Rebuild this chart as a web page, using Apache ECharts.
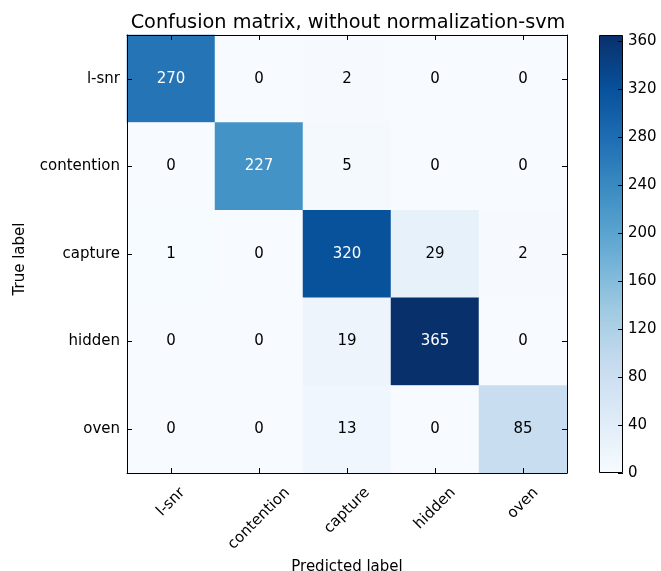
<!DOCTYPE html>
<html>
<head>
<meta charset="utf-8">
<script src="https://cdn.jsdelivr.net/npm/echarts@6/dist/echarts.min.js"></script>
<style>
  html, body { margin: 0; padding: 0; background: #fff; }
  #chart { width: 661px; height: 571px; }
</style>
</head>
<body>
<div id="chart"></div>
<script>
// Class names, shared by both axes (true label rows, predicted label columns)
const classNames = ['l-snr', 'contention', 'capture', 'hidden', 'oven'];

// Confusion counts: one row per true label, one column per predicted label
const rowLsnr       = [270, 0, 2, 0, 0];
const rowContention = [0, 227, 5, 0, 0];
const rowCapture    = [1, 0, 320, 29, 2];
const rowHidden     = [0, 0, 19, 365, 0];
const rowOven       = [0, 0, 13, 0, 85];
const countRows = [rowLsnr, rowContention, rowCapture, rowHidden, rowOven];

// Colour bar tick step
const colorbarStep = 40;

// Blues colour ramp
const blues = ['#f7fbff', '#deebf7', '#c6dbef', '#9ecae1', '#6baed6',
               '#4292c6', '#2171b5', '#08519c', '#08306b'];

const FONT = '"DejaVu Sans", "Liberation Sans", sans-serif';
const TICK_SIZE = 15;

const maxCount = Math.max(...countRows.flat());
const threshold = maxCount / 2;

// Heatmap cells: [column, row, value], with white text on dark cells
const cells = [];
countRows.forEach((row, r) => {
  row.forEach((v, c) => {
    cells.push({
      value: [c, r, v],
      label: { color: v > threshold ? '#ffffff' : '#000000' }
    });
  });
});

// Rotated x labels: centre each rotated label box under its tick, with all
// boxes starting at the same distance below the axis.
const measureCtx = document.createElement('canvas').getContext('2d');
measureCtx.font = TICK_SIZE + 'px ' + FONT;
const rich = {};
classNames.forEach((name, i) => {
  const w = measureCtx.measureText(name).width;
  const p = (w + TICK_SIZE) * 0.5;
  rich['c' + i] = {
    fontFamily: FONT, fontSize: TICK_SIZE, color: '#000',
    padding: [p, p, 0, 0]
  };
});

const gradientStops = blues.map((c, i) => ({ offset: 1 - i / (blues.length - 1), color: c }));

const axisLineStyle = { show: true, lineStyle: { color: '#000', width: 1 } };
const tickStyle = { show: true, inside: true, length: 5, alignWithLabel: true, lineStyle: { color: '#000', width: 1 } };

const chart = echarts.init(document.getElementById('chart'), null, { renderer: 'canvas' });

chart.setOption({
  animation: false,
  backgroundColor: '#fff',
  textStyle: { fontFamily: FONT },
  title: {
    text: 'Confusion matrix, without normalization-svm',
    left: 343,
    top: 8,
    textAlign: 'center',
    textStyle: { fontFamily: FONT, fontSize: 19.3, fontWeight: 'normal', color: '#000' }
  },
  grid: [
    { left: 127, top: 35, width: 440, height: 438, outerBoundsMode: 'none', containLabel: false },
    { left: 599, top: 35, width: 24, height: 438, outerBoundsMode: 'none', containLabel: false }
  ],
  xAxis: [
    {
      type: 'category', gridIndex: 0, data: classNames, position: 'bottom', z: 10,
      axisLine: axisLineStyle, axisTick: tickStyle,
      splitLine: { show: false },
      axisLabel: {
        interval: 0, rotate: 45, align: 'center', verticalAlign: 'middle', margin: 12,
        formatter: (v, i) => '{c' + i + '|' + v + '}',
        rich: rich
      },
      name: 'Predicted label', nameLocation: 'middle', nameGap: 82,
      nameTextStyle: { fontFamily: FONT, fontSize: TICK_SIZE, color: '#000' }
    },
    {
      type: 'category', gridIndex: 0, data: classNames, position: 'top', z: 10,
      axisLine: axisLineStyle, axisTick: tickStyle, axisLabel: { show: false }
    },
    {
      type: 'category', gridIndex: 1, data: [''], show: false
    }
  ],
  yAxis: [
    {
      type: 'category', gridIndex: 0, data: classNames, inverse: true, position: 'left', z: 10,
      axisLine: axisLineStyle, axisTick: tickStyle,
      axisLabel: { fontFamily: FONT, fontSize: TICK_SIZE, color: '#000', margin: 7 },
      name: 'True label', nameLocation: 'middle', nameGap: 99, nameRotate: 90,
      nameTextStyle: { fontFamily: FONT, fontSize: TICK_SIZE, color: '#000', padding: [0, 10, 0, 0] }
    },
    {
      type: 'category', gridIndex: 0, data: classNames, inverse: true, position: 'right', z: 10,
      axisLine: axisLineStyle, axisTick: tickStyle, axisLabel: { show: false }
    },
    {
      type: 'value', gridIndex: 1, position: 'right', min: 0, max: maxCount, z: 10,
      interval: colorbarStep,
      axisLine: { show: false },
      axisTick: { show: true, inside: true, length: 5, lineStyle: { color: '#000', width: 1 } },
      splitLine: { show: false },
      axisLabel: { fontFamily: FONT, fontSize: TICK_SIZE, color: '#000', margin: 5, showMaxLabel: false }
    }
  ],
  visualMap: {
    show: false, type: 'continuous', min: 0, max: maxCount, seriesIndex: 0,
    inRange: { color: blues }
  },
  series: [
    {
      type: 'heatmap', xAxisIndex: 0, yAxisIndex: 0, data: cells,
      label: { show: true, fontFamily: FONT, fontSize: TICK_SIZE, formatter: p => p.value[2] },
      emphasis: { disabled: true }
    },
    {
      type: 'bar', xAxisIndex: 2, yAxisIndex: 2, data: [maxCount], barWidth: '100%',
      itemStyle: {
        color: { type: 'linear', x: 0, y: 0, x2: 0, y2: 1, colorStops: gradientStops.slice().reverse() },
        borderColor: '#000', borderWidth: 1
      },
      emphasis: { disabled: true },
      silent: true
    }
  ]
});
</script>
</body>
</html>
